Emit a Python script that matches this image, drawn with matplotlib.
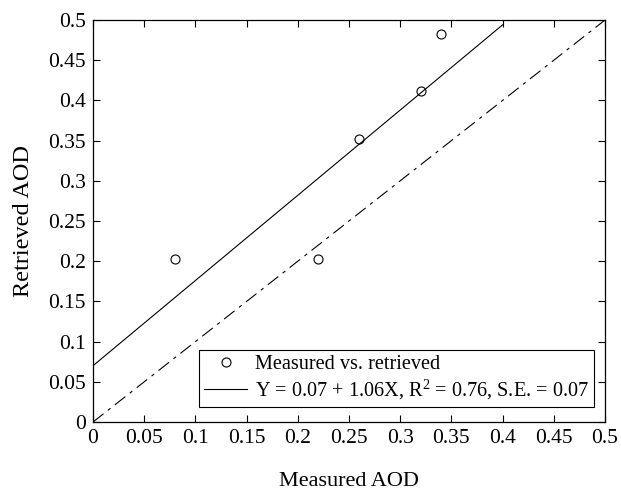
import numpy as np
import matplotlib
matplotlib.use('Agg')
import matplotlib.pyplot as plt

plt.rcParams['font.family'] = 'Liberation Serif'
plt.rcParams['mathtext.fontset'] = 'custom'
plt.rcParams['mathtext.rm'] = 'Liberation Serif'
plt.rcParams['mathtext.it'] = 'Liberation Serif:italic'

# data
measured = [0.08, 0.22, 0.26, 0.32, 0.34]
retrieved = [0.203, 0.203, 0.352, 0.412, 0.482]
fit_intercept = 0.07
fit_slope = 1.06
fit_xmax = 0.4
ticks = [0, 0.05, 0.1, 0.15, 0.2, 0.25, 0.3, 0.35, 0.4, 0.45, 0.5]
tick_labels = ['0', '0.05', '0.1', '0.15', '0.2', '0.25', '0.3', '0.35', '0.4', '0.45', '0.5']

fig = plt.figure(figsize=(6.21, 4.90), dpi=100)
ax = fig.add_axes([0.1498, 0.1388, 0.8245, 0.8204])

ax.plot(measured, retrieved, 'o', mfc='none', mec='black', ms=6.5, mew=0.8,
        label='Measured vs. retrieved')
xf = np.array([0, fit_xmax])
ax.plot(xf, fit_intercept + fit_slope * xf, '-', color='black', lw=0.8,
        label='Y = 0.07 + 1.06X, R$^{\\mathrm{2}}$ = 0.76, S.E. = 0.07')
ax.plot([0, 0.5], [0, 0.5], color='black', lw=0.8,
        linestyle=(0, (12, 5, 3, 5)))

ax.set_xlim(0, 0.5)
ax.set_ylim(0, 0.5)
ax.set_xticks(ticks)
ax.set_xticklabels(tick_labels)
ax.set_yticks(ticks)
ax.set_yticklabels(tick_labels)
ax.tick_params(direction='in', top=True, right=True, length=5, width=0.8,
               labelsize=15.5, pad=5)
for s in ax.spines.values():
    s.set_linewidth(0.9)

ax.set_xlabel('Measured AOD', fontsize=16, labelpad=17)
ax.set_ylabel('Retrieved AOD', fontsize=17.5, labelpad=10)

leg = ax.legend(loc='lower right', bbox_to_anchor=(0.9785, 0.037),
                borderaxespad=0, fontsize=14.6, fancybox=False, framealpha=1,
                edgecolor='black', handlelength=2.1, handletextpad=0.4,
                labelspacing=0.2, borderpad=0.25)
leg.get_frame().set_linewidth(0.8)

fig.savefig('out.png', dpi=100)
